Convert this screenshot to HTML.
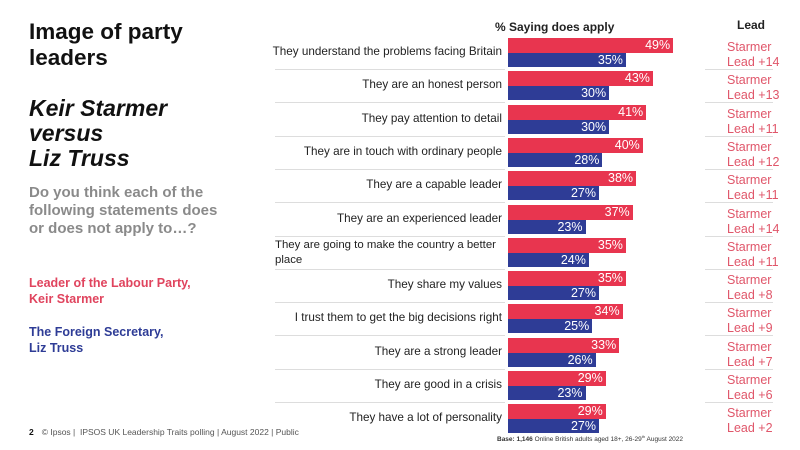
<!DOCTYPE html>
<html><head><meta charset="utf-8"><style>
body{margin:0;width:800px;height:450px;background:#fff;position:relative;overflow:hidden;font-family:"Liberation Sans",sans-serif}
.a{position:absolute;white-space:nowrap}
.t{left:29px;font-weight:bold;color:#111;font-size:22.5px;line-height:26px}
.bar{position:absolute;left:508px;color:#fff;font-size:12.5px;text-align:right;box-sizing:border-box;padding-right:3px}
.r{background:#e8354f;height:15px;line-height:15px}
.b{background:#2e3c96;height:14px;line-height:15px}
.lab{position:absolute;right:298px;font-size:11.7px;color:#222;text-align:right;line-height:14px}
.sep{position:absolute;left:275px;width:230px;height:1px;background:#ddd}
.sep2{position:absolute;left:705px;width:68px;height:1px;background:#ddd}
.lead{position:absolute;left:727px;font-size:12.5px;color:#e0566a;line-height:15px}
</style></head><body>
<div class="a t" style="top:19px">Image of party<br>leaders</div>
<div class="a" style="left:29px;top:96px;font-size:23px;line-height:25px;font-weight:bold;font-style:italic;color:#111">Keir Starmer<br>versus<br>Liz Truss</div>
<div class="a" style="left:29px;top:184px;font-size:15px;line-height:18px;font-weight:bold;color:#8a8a8a">Do you think each of the<br>following statements does<br>or does not apply to…?</div>
<div class="a" style="left:29px;top:275px;font-size:12.5px;line-height:16px;font-weight:bold;color:#e0445e">Leader of the Labour Party,<br>Keir Starmer</div>
<div class="a" style="left:29px;top:324px;font-size:12.5px;line-height:16px;font-weight:bold;color:#2e3c96">The Foreign Secretary,<br>Liz Truss</div>
<div class="a" style="left:29px;top:427px;font-size:8.5px;color:#555"><b style="color:#111;margin-right:8px">2</b>© Ipsos | &nbsp;IPSOS UK Leadership Traits polling | August 2022 | Public</div>
<div class="a" style="left:497px;top:434px;font-size:6.5px;color:#333"><b>Base: 1,146</b> Online British adults aged 18+, 26-29<sup style="font-size:4px">th</sup> August 2022</div>
<div class="a" style="left:495px;top:20px;font-size:12px;font-weight:bold;color:#222">% Saying does apply</div>
<div class="a" style="left:737px;top:18px;font-size:12px;font-weight:bold;color:#222">Lead</div>
<div id="c"></div>
<script>
var L=["They understand the problems facing Britain","They are an honest person","They pay attention to detail","They are in touch with ordinary people","They are a capable leader","They are an experienced leader","","They share my values","I trust them to get the big decisions right","They are a strong leader","They are good in a crisis","They have a lot of personality"];
var R=[49,43,41,40,38,37,35,35,34,33,29,29],B=[35,30,30,28,27,23,24,27,25,26,23,27],D=[14,13,11,12,11,14,11,8,9,7,6,2];
var h="",k=3.37;
for(var i=0;i<12;i++){var y=38+33.3*i;
h+='<div class="bar r" style="top:'+y+'px;width:'+(R[i]*k)+'px">'+R[i]+'%</div>';
h+='<div class="bar b" style="top:'+(y+15)+'px;width:'+(B[i]*k)+'px">'+B[i]+'%</div>';
if(i==6)h+='<div class="a" style="left:275px;top:'+(y)+'px;font-size:11.4px;line-height:15px;color:#222">They are going to make the country a better<br>place</div>';
else h+='<div class="lab" style="top:'+(y+7)+'px">'+L[i]+'</div>';
if(i<11){h+='<div class="sep" style="top:'+(y+31)+'px"></div><div class="sep2" style="top:'+(y+31)+'px"></div>';}
h+='<div class="lead" style="top:'+(y+2)+'px">Starmer<br>Lead +'+D[i]+'</div>';}
document.getElementById("c").innerHTML=h;
</script>
</body></html>
